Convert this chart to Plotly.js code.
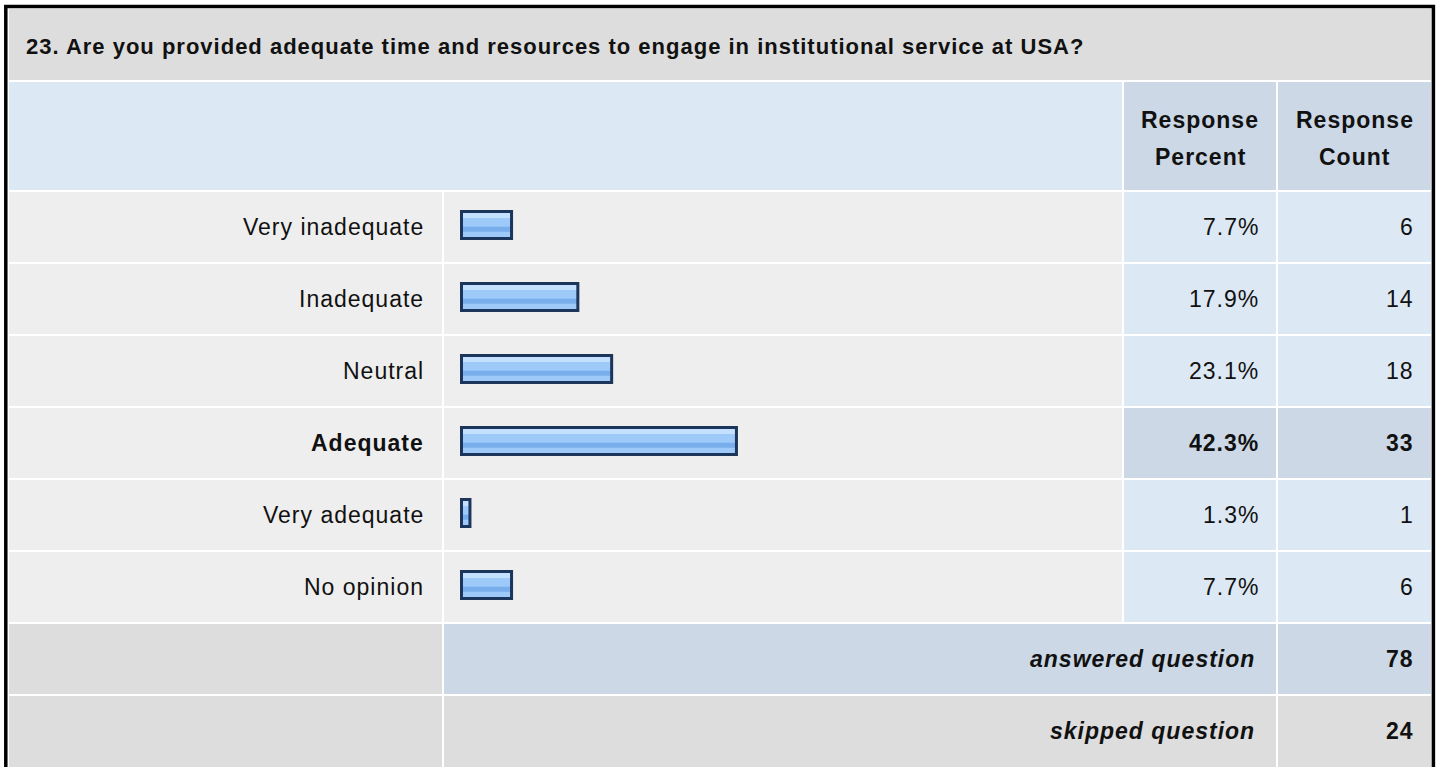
<!DOCTYPE html>
<html><head><meta charset="utf-8">
<script src="https://cdn.plot.ly/plotly-3.0.1.min.js"></script>
<style>html,body{margin:0;padding:0;background:#fff;overflow:hidden}#chart{width:1440px;height:767px}
.annotation-text{letter-spacing:1px}</style>
</head><body><div id="chart"></div>
<script>
// ---- data ----
const questionTitle = '23. Are you provided adequate time and resources to engage in institutional service at USA?';
const answerOptions = ['Very inadequate', 'Inadequate', 'Neutral', 'Adequate', 'Very adequate', 'No opinion'];
const responsePercent = [7.7, 17.9, 23.1, 42.3, 1.3, 7.7];
const responseCount = [6, 14, 18, 33, 1, 6];
const headerPercent = ['Response', 'Percent'];
const headerCount = ['Response', 'Count'];
const summaryLabels = ['answered question', 'skipped question'];
const summaryCounts = [78, 24];

// ---- layout helpers ----
const W = 1440, H = 767;
const X = p => p / W, Y = p => 1 - p / H;
const FONT = 'Liberation Sans, Arial, Helvetica, sans-serif';
const TXT = '#111111';
const col = {labL: 9, labR: 442, barL: 444, barR: 1122, pctL: 1124, pctR: 1276, cntL: 1278, cntR: 1431};
const rowTop = i => 192 + 72 * i, rowBot = i => 262 + 72 * i, rowMid = i => 227 + 72 * i;
const hi = responseCount.indexOf(Math.max(...responseCount));

const shapes = [];
function cell(x0, x1, y0, y1, color) {
  shapes.push({type: 'rect', xref: 'paper', yref: 'paper', x0: X(x0), x1: X(x1), y0: Y(y1), y1: Y(y0),
    fillcolor: color, line: {width: 0}, layer: 'below'});
}
// title row and header
cell(col.labL, col.cntR, 9, 80, '#DDDDDD');
cell(col.labL, col.barR, 82, 190, '#DDE8F5');
cell(col.pctL, col.pctR, 82, 190, '#CCD8E6');
cell(col.cntL, col.cntR, 82, 190, '#CCD8E6');
// data rows
answerOptions.forEach((_, i) => {
  const c = i === hi ? '#CCD8E6' : '#DDE8F5';
  cell(col.labL, col.labR, rowTop(i), rowBot(i), '#EEEEEE');
  cell(col.barL, col.barR, rowTop(i), rowBot(i), '#EEEEEE');
  cell(col.pctL, col.pctR, rowTop(i), rowBot(i), c);
  cell(col.cntL, col.cntR, rowTop(i), rowBot(i), c);
});
// summary rows
const n = answerOptions.length;
cell(col.labL, col.labR, rowTop(n), rowBot(n), '#DDDDDD');
cell(col.barL, col.pctR, rowTop(n), rowBot(n), '#CCD8E6');
cell(col.cntL, col.cntR, rowTop(n), rowBot(n), '#CCD8E6');
cell(col.labL, col.labR, rowTop(n + 1), 770, '#DDDDDD');
cell(col.barL, col.pctR, rowTop(n + 1), 770, '#DDDDDD');
cell(col.cntL, col.cntR, rowTop(n + 1), 770, '#DDDDDD');
// outer frame
shapes.push({type: 'rect', xref: 'paper', yref: 'paper', x0: X(5.8), x1: X(1433.4), y0: Y(790), y1: Y(6.5),
  fillcolor: 'rgba(0,0,0,0)', line: {color: '#000000', width: 3.5}, layer: 'above'});

// ---- annotations ----
const ann = [];
function txt(text, x, y, xanchor, size) {
  ann.push({text, x: X(x), y: Y(y), xref: 'paper', yref: 'paper', xanchor, yanchor: 'middle',
    showarrow: false, font: {family: FONT, size: size || 23, color: TXT}});
}
txt('<b>' + questionTitle + '</b>', 24, 47, 'left', 22);
txt('<b>' + headerPercent[0] + '</b>', 1200, 120, 'center');
txt('<b>' + headerPercent[1] + '</b>', 1200, 157, 'center');
txt('<b>' + headerCount[0] + '</b>', 1354.5, 120, 'center');
txt('<b>' + headerCount[1] + '</b>', 1354.5, 157, 'center');
answerOptions.forEach((lab, i) => {
  const b = s => i === hi ? '<b>' + s + '</b>' : s;
  txt(b(lab), 426, rowMid(i), 'right');
  txt(b(responsePercent[i].toFixed(1) + '%'), 1261, rowMid(i), 'right');
  txt(b(String(responseCount[i])), 1416, rowMid(i), 'right');
});
summaryLabels.forEach((lab, k) => {
  txt('<b><i>' + lab + '</i></b>', 1257, rowMid(n + k), 'right');
  txt('<b>' + summaryCounts[k] + '</b>', 1416, rowMid(n + k), 'right');
});

// ---- bars ----
const idx = answerOptions.map((_, i) => i);
const BW = 0.375, BO = -0.215;
const baseBar = {type: 'bar', orientation: 'h', x: responsePercent, y: idx, width: BW, offset: BO,
  marker: {color: '#9DCAF8', line: {width: 0}}, hoverinfo: 'skip'};
const topBand = {type: 'bar', orientation: 'h', x: responsePercent, y: idx, width: 0.072, offset: -0.196,
  marker: {color: '#C3E0FE', line: {width: 0}}, hoverinfo: 'skip'};
const darkBand = {type: 'bar', orientation: 'h', x: responsePercent, y: idx, width: 0.07, offset: -0.004,
  marker: {color: '#78AEEB', line: {width: 0}}, hoverinfo: 'skip'};
const outline = {type: 'bar', orientation: 'h', x: responsePercent, y: idx, width: BW, offset: BO,
  marker: {color: 'rgba(0,0,0,0)', line: {width: 3, color: '#1B355B'}}, hoverinfo: 'skip'};

const r0 = -(461.5 - col.barL) / 6.5;
const layout = {
  width: W, height: H, margin: {l: 0, r: 0, t: 0, b: 0},
  paper_bgcolor: '#FFFFFF', plot_bgcolor: 'rgba(0,0,0,0)',
  showlegend: false, barmode: 'overlay',
  xaxis: {domain: [X(col.barL), X(col.barR)], range: [r0, r0 + (col.barR - col.barL) / 6.5],
    visible: false, fixedrange: true},
  yaxis: {domain: [Y(623), Y(191)], range: [n - 0.5, -0.5], visible: false, fixedrange: true},
  shapes, annotations: ann
};
Plotly.newPlot('chart', [baseBar, topBand, darkBand, outline], layout, {staticPlot: true, displayModeBar: false});
</script></body></html>
